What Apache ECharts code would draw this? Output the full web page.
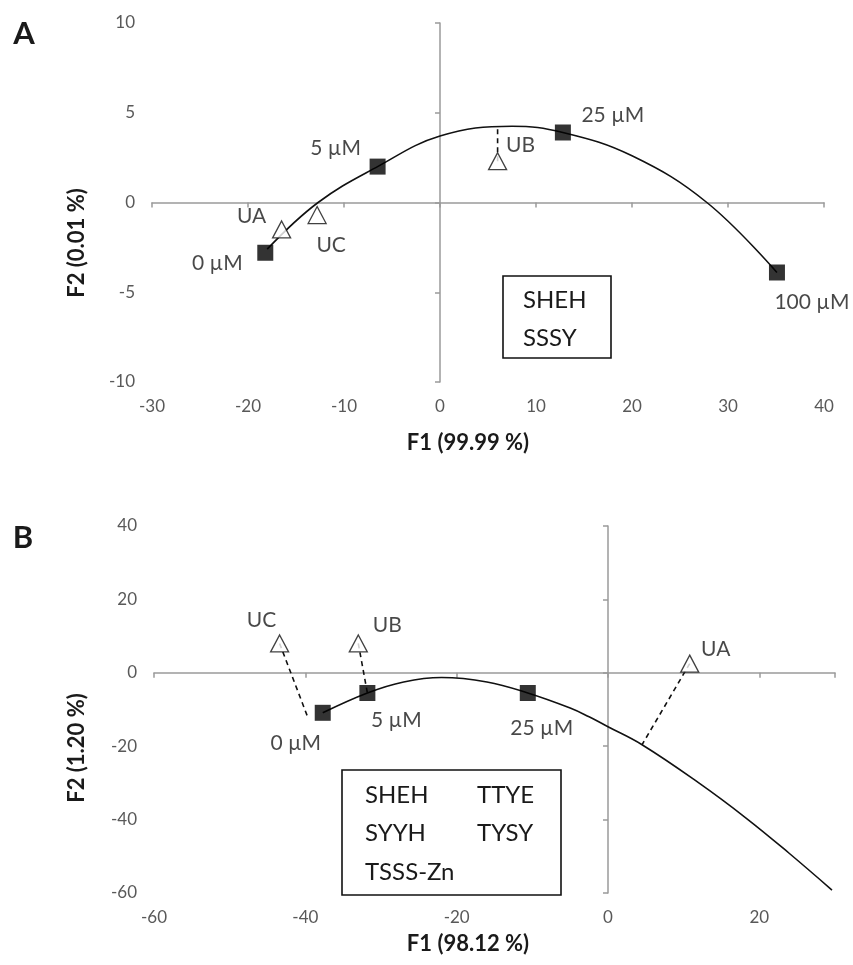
<!DOCTYPE html>
<html>
<head>
<meta charset="utf-8">
<script src="https://cdn.jsdelivr.net/npm/echarts@6/dist/echarts.min.js"></script>
<style>
html,body{margin:0;padding:0;background:#fff}
#main{width:853px;height:965px}
</style>
</head>
<body>
<div id="main"></div>
<script>
// panel A
var aDoseNames = ['0 µM', '5 µM', '25 µM', '100 µM'];
var aDoseF1 = [-18.2, -6.5, 12.8, 35.1];
var aDoseF2 = [-2.8, 2.0, 3.9, -3.9];
var aUnkNames = ['UA', 'UC', 'UB'];
var aUnkF1 = [-16.5, -12.8, 6.0];
var aUnkF2 = [-1.5, -0.7, 2.3];
var aCurveF1 = [-18.0, -12.7, -6.5, 0, 7.5, 12.8, 20, 27.8, 35.1];
var aCurveF2 = [-2.6, 0, 2.0, 3.7, 4.25, 3.9, 2.6, 0, -3.9];
var aLinkFrom = ['UB'];
var aLinkToF1 = [6.0];
var aLinkToF2 = [4.2];
var aLegend = [['SHEH', 'SSSY']];

// panel B
var bDoseNames = ['0 µM', '5 µM', '25 µM'];
var bDoseF1 = [-37.7, -31.8, -10.6];
var bDoseF2 = [-10.9, -5.5, -5.5];
var bUnkNames = ['UC', 'UB', 'UA'];
var bUnkF1 = [-43.4, -33.0, 10.8];
var bUnkF2 = [8.0, 8.0, 2.5];
var bCurveF1 = [-37.7, -31.8, -27, -22, -16, -10.6, -5, -2.5, 0, 4.5, 12, 18.2, 23.9, 29.6];
var bCurveF2 = [-10.9, -5.5, -2.5, -1.3, -2.5, -5.5, -9.6, -12.0, -14.7, -19.6, -30.0, -39.5, -49.1, -59.2];
var bLinkFrom = ['UC', 'UB', 'UA'];
var bLinkToF1 = [-39.7, -31.8, 4.5];
var bLinkToF2 = [-12.0, -5.5, -19.6];
var bLegend = [['SHEH', 'SYYH', 'TSSS-Zn'], ['TTYE', 'TYSY']];

// label offsets (px from marker centre)
var aOffsets = {'0 µM': [-48, 10], '5 µM': [-42, -18], '25 µM': [50, -17], '100 µM': [35, 30],
    'UA': [-30, -13], 'UC': [14, 30], 'UB': [23, -16]};
var bOffsets = {'0 µM': [-27, 30], '5 µM': [29, 27], '25 µM': [14, 35],
    'UC': [-18, -23], 'UB': [29, -18], 'UA': [26, -14]};

var FONT = 'Lato';
var axisGray = '#9a9a9a';

function pairs(xs, ys) {
    return xs.map(function (x, i) { return [x, ys[i]]; });
}

function pointData(names, xs, ys, offsets) {
    return names.map(function (n, i) {
        return {name: n, value: [xs[i], ys[i]], label: {offset: offsets[n]}};
    });
}

function labelAxis(dim, grid, min, max, interval) {
    return {
        type: 'value', gridIndex: grid, min: min, max: max, interval: interval,
        position: dim === 'x' ? 'bottom' : 'left',
        axisLine: {show: false, onZero: false},
        axisTick: {show: false},
        splitLine: {show: false},
        axisLabel: {color: '#595959', fontSize: 17, fontFamily: FONT, margin: dim === 'x' ? 16 : 17,
            showMinLabel: true, showMaxLabel: max % interval === 0}
    };
}

function lineAxis(dim, grid, min, max, interval, otherIdx) {
    return {
        type: 'value', gridIndex: grid, min: min, max: max, interval: interval,
        position: dim === 'x' ? 'bottom' : 'left',
        axisLine: {show: true, onZero: true, onZeroAxisIndex: otherIdx, lineStyle: {color: axisGray, width: 1.5}},
        axisTick: {show: true, length: 5, lineStyle: {color: axisGray, width: 1.5}},
        axisLabel: {show: false},
        splitLine: {show: false}
    };
}

function panelSeries(axIdx, curveX, curveY, dNames, dX, dY, uNames, uX, uY, lFrom, lX, lY, offsets) {
    var out = [];
    out.push({
        type: 'line', xAxisIndex: axIdx, yAxisIndex: axIdx, smooth: 0.4,
        data: pairs(curveX, curveY), symbol: 'none',
        lineStyle: {color: '#111', width: 1.6}, z: 2
    });
    lFrom.forEach(function (n, i) {
        var k = uNames.indexOf(n);
        out.push({
            type: 'line', xAxisIndex: axIdx, yAxisIndex: axIdx,
            data: [[uX[k], uY[k]], [lX[i], lY[i]]], symbol: 'none',
            lineStyle: {color: '#111', width: 1.6, type: [5, 4]}, z: 2
        });
    });
    var lbl = {show: true, position: 'inside', formatter: '{b}', color: '#1a1a1a', fontSize: 21, fontFamily: FONT};
    out.push({
        type: 'scatter', xAxisIndex: axIdx, yAxisIndex: axIdx, symbol: 'rect', symbolSize: 16,
        itemStyle: {color: '#000'}, label: lbl, z: 4,
        data: pointData(dNames, dX, dY, offsets)
    });
    out.push({
        type: 'scatter', xAxisIndex: axIdx, yAxisIndex: axIdx, symbol: 'triangle', symbolSize: [18, 17],
        itemStyle: {color: '#fff', borderColor: '#111', borderWidth: 1.3}, label: lbl, z: 5,
        data: pointData(uNames, uX, uY, offsets)
    });
    return out;
}

function legendBox(x, y, w, h, cols, colX, rowY) {
    var els = [{type: 'rect', shape: {x: x, y: y, width: w, height: h},
        style: {fill: '#fff', stroke: '#111', lineWidth: 1.6}}];
    cols.forEach(function (col, c) {
        col.forEach(function (t, r) {
            els.push({type: 'text', x: x + colX[c], y: y + rowY[r],
                style: {text: t, font: '24px ' + FONT, fill: '#1a1a1a', align: 'left', verticalAlign: 'middle'}});
        });
    });
    return els;
}

function txt(t, x, y, size, bold, rot) {
    return {type: 'text', x: x, y: y, rotation: rot || 0,
        style: {text: t, font: (bold ? 'bold ' : '') + size + 'px ' + FONT, fill: '#1a1a1a', align: 'center', verticalAlign: 'middle'}};
}

var chart = echarts.init(document.getElementById('main'));

var option = {
    animation: false,
    backgroundColor: '#fff',
    grid: [
        {left: 152, top: 23, width: 672, height: 359},
        {left: 154, top: 526, width: 681, height: 367}
    ],
    // 0,2 = label axes ; 1,3 = axis lines through zero
    xAxis: [
        labelAxis('x', 0, -30, 40, 10),
        lineAxis('x', 0, -30, 40, 10, 0),
        labelAxis('x', 1, -60, 30, 20),
        lineAxis('x', 1, -60, 30, 20, 2)
    ],
    yAxis: [
        labelAxis('y', 0, -10, 10, 5),
        lineAxis('y', 0, -10, 10, 5, 0),
        labelAxis('y', 1, -60, 40, 20),
        lineAxis('y', 1, -60, 40, 20, 2)
    ],
    series: panelSeries(0, aCurveF1, aCurveF2, aDoseNames, aDoseF1, aDoseF2, aUnkNames, aUnkF1, aUnkF2,
            aLinkFrom, aLinkToF1, aLinkToF2, aOffsets)
        .concat(panelSeries(2, bCurveF1, bCurveF2, bDoseNames, bDoseF1, bDoseF2, bUnkNames, bUnkF1, bUnkF2,
            bLinkFrom, bLinkToF1, bLinkToF2, bOffsets)),
    graphic: [
        txt('A', 24, 34, 31, true),
        txt('B', 23, 538, 31, true),
        txt('F1 (99.99 %)', 468, 443, 22, true),
        txt('F1 (98.12 %)', 468, 944, 22, true),
        txt('F2 (0.01 %)', 77, 243, 22, true, Math.PI / 2),
        txt('F2 (1.20 %)', 77, 748, 22, true, Math.PI / 2)
    ].concat(legendBox(503, 276, 108, 82, aLegend, [20], [24, 62]))
     .concat(legendBox(342, 770, 219, 125, bLegend, [23, 135], [25, 63, 102]))
};

chart.setOption(option);
</script>
</body>
</html>
